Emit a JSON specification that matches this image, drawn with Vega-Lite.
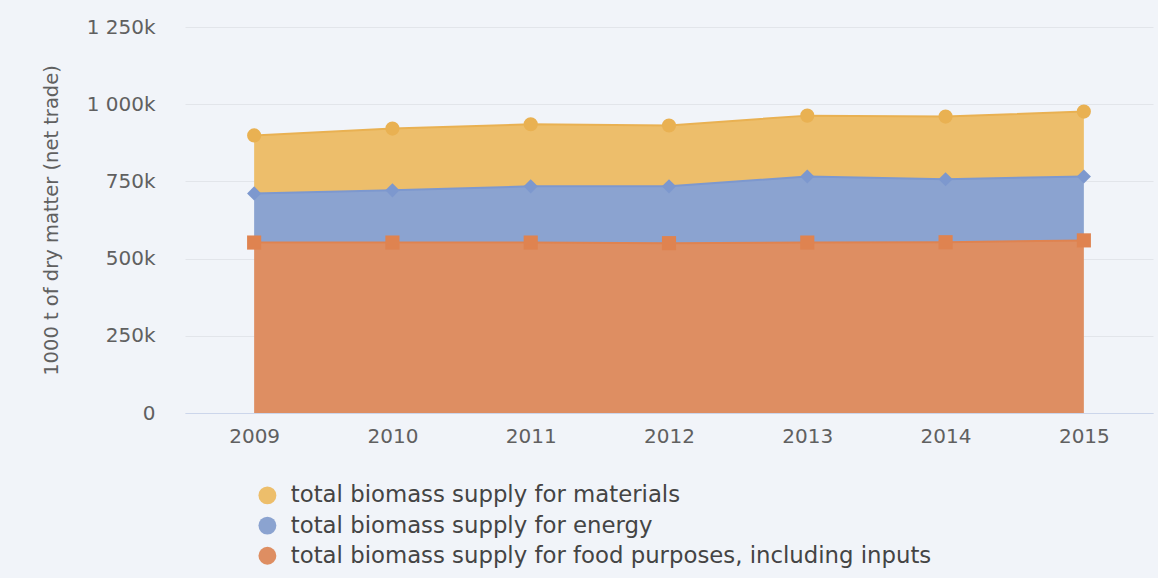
{
  "$schema": "https://vega.github.io/schema/vega-lite/v6.json",
  "width": 968,
  "height": 386,
  "autosize": {"type": "none"},
  "padding": {"left": 185, "top": 27, "right": 5, "bottom": 165},
  "background": "#f1f4f9",
  "config": {"view": {"stroke": null}, "font": "DejaVu Sans"},
  "data": {
    "values": [
      {"year": "2009", "series": "total biomass supply for food purposes, including inputs", "rank": 1, "value": 552000},
      {"year": "2010", "series": "total biomass supply for food purposes, including inputs", "rank": 1, "value": 552000},
      {"year": "2011", "series": "total biomass supply for food purposes, including inputs", "rank": 1, "value": 552000},
      {"year": "2012", "series": "total biomass supply for food purposes, including inputs", "rank": 1, "value": 550000},
      {"year": "2013", "series": "total biomass supply for food purposes, including inputs", "rank": 1, "value": 552000},
      {"year": "2014", "series": "total biomass supply for food purposes, including inputs", "rank": 1, "value": 553000},
      {"year": "2015", "series": "total biomass supply for food purposes, including inputs", "rank": 1, "value": 559000},
      {"year": "2009", "series": "total biomass supply for energy", "rank": 2, "value": 159000},
      {"year": "2010", "series": "total biomass supply for energy", "rank": 2, "value": 169000},
      {"year": "2011", "series": "total biomass supply for energy", "rank": 2, "value": 182000},
      {"year": "2012", "series": "total biomass supply for energy", "rank": 2, "value": 184000},
      {"year": "2013", "series": "total biomass supply for energy", "rank": 2, "value": 214000},
      {"year": "2014", "series": "total biomass supply for energy", "rank": 2, "value": 204000},
      {"year": "2015", "series": "total biomass supply for energy", "rank": 2, "value": 207000},
      {"year": "2009", "series": "total biomass supply for materials", "rank": 3, "value": 188000},
      {"year": "2010", "series": "total biomass supply for materials", "rank": 3, "value": 200000},
      {"year": "2011", "series": "total biomass supply for materials", "rank": 3, "value": 201000},
      {"year": "2012", "series": "total biomass supply for materials", "rank": 3, "value": 197000},
      {"year": "2013", "series": "total biomass supply for materials", "rank": 3, "value": 197000},
      {"year": "2014", "series": "total biomass supply for materials", "rank": 3, "value": 203000},
      {"year": "2015", "series": "total biomass supply for materials", "rank": 3, "value": 210000}
    ]
  },
  "transform": [
    {"stack": "value", "groupby": ["year"], "sort": [{"field": "rank", "order": "ascending"}], "as": ["v0", "v1"]}
  ],
  "encoding": {
    "x": {
      "field": "year",
      "type": "ordinal",
      "scale": {"type": "point", "padding": 0.5},
      "axis": {
        "title": null,
        "labelAngle": 0,
        "labelFontSize": 20,
        "labelColor": "#606060",
        "labelPadding": 13,
        "ticks": false,
        "grid": false,
        "domainColor": "#ccd6eb",
        "domainWidth": 1
      }
    },
    "y": {
      "field": "v1",
      "type": "quantitative",
      "scale": {"domain": [0, 1250000], "nice": false, "zero": true},
      "axis": {
        "title": "1000 t of dry matter (net trade)",
        "titleFontSize": 19.5,
        "titleFontWeight": "normal",
        "titleColor": "#606060",
        "titleX": -124,
        "values": [0, 250000, 500000, 750000, 1000000, 1250000],
        "labelExpr": "datum.value == 0 ? '0' : replace(format(datum.value / 1000, ','), ',', ' ') + 'k'",
        "labelFontSize": 20,
        "labelColor": "#606060",
        "labelPadding": 30,
        "labelOverlap": false,
        "labelBound": false,
        "ticks": false,
        "domain": false,
        "gridColor": "#e2e5ea",
        "gridWidth": 1
      }
    }
  },
  "layer": [
    {
      "mark": {"type": "area", "opacity": 1},
      "encoding": {
        "y2": {"field": "v0"},
        "color": {
          "field": "series",
          "type": "nominal",
          "scale": {
            "domain": ["total biomass supply for materials", "total biomass supply for energy", "total biomass supply for food purposes, including inputs"],
            "range": ["#edbe6b", "#8ba3d0", "#de8e62"]
          },
          "legend": {
            "title": null,
            "orient": "none",
            "legendX": 71,
            "legendY": 457,
            "direction": "vertical",
            "symbolType": "circle",
            "symbolSize": 320,
            "symbolStrokeWidth": 0,
            "symbolOpacity": 1,
            "labelFontSize": 22.8,
            "labelColor": "#444444",
            "labelOffset": 12,
            "rowPadding": 6.2,
            "padding": 0,
            "labelLimit": 900
          }
        }
      }
    },
    {
      "mark": {"type": "line", "strokeWidth": 2},
      "encoding": {
        "stroke": {
          "field": "series",
          "type": "nominal",
          "scale": {
            "domain": ["total biomass supply for materials", "total biomass supply for energy", "total biomass supply for food purposes, including inputs"],
            "range": ["#e9b152", "#7d98ce", "#df8350"]
          },
          "legend": null
        }
      }
    },
    {
      "mark": {"type": "point", "filled": true, "opacity": 1},
      "encoding": {
        "fill": {
          "field": "series",
          "type": "nominal",
          "scale": {
            "domain": ["total biomass supply for materials", "total biomass supply for energy", "total biomass supply for food purposes, including inputs"],
            "range": ["#e9b152", "#7d98ce", "#df8350"]
          },
          "legend": null
        },
        "shape": {
          "field": "rank",
          "type": "nominal",
          "scale": {"domain": [3, 2, 1], "range": ["circle", "diamond", "square"]},
          "legend": null
        },
        "size": {
          "field": "rank",
          "type": "nominal",
          "scale": {"domain": [3, 2, 1], "range": [200, 200, 230]},
          "legend": null
        }
      }
    }
  ]
}
